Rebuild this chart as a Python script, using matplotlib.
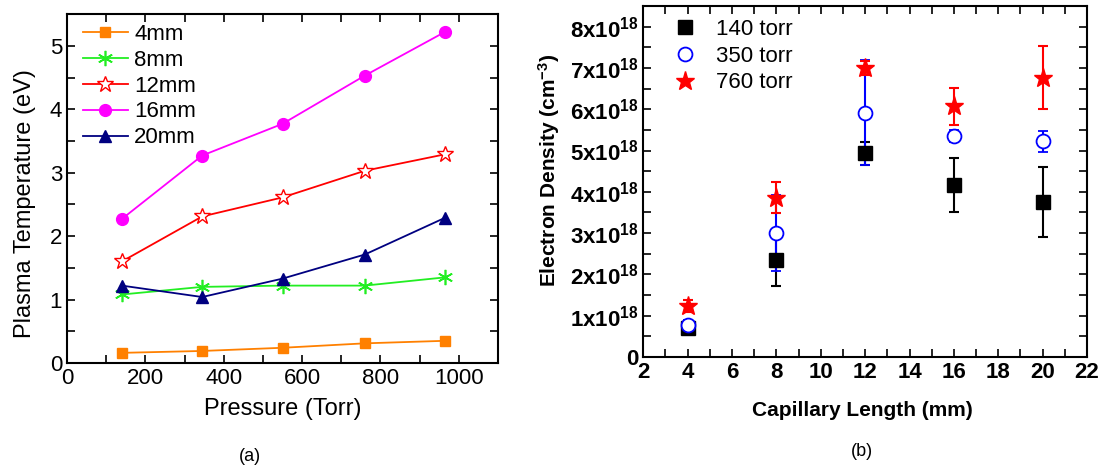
import numpy as np
import matplotlib
matplotlib.use("Agg")
import matplotlib.pyplot as plt
from matplotlib.ticker import MultipleLocator, FuncFormatter

plt.rcParams['font.family'] = ['Liberation Sans', 'DejaVu Sans']
plt.rcParams['mathtext.fontset'] = 'custom'
plt.rcParams['mathtext.rm'] = 'Liberation Sans'
plt.rcParams['mathtext.bf'] = 'Liberation Sans:bold'
plt.rcParams['mathtext.default'] = 'bf'

# (a) plasma temperature vs pressure
pressure = [140, 345, 550, 760, 965]
temp_4mm = [0.16, 0.19, 0.24, 0.31, 0.35]
temp_8mm = [1.08, 1.20, 1.22, 1.22, 1.35]
temp_12mm = [1.60, 2.31, 2.61, 3.03, 3.29]
temp_16mm = [2.27, 3.27, 3.77, 4.53, 5.22]
temp_20mm = [1.22, 1.04, 1.33, 1.71, 2.29]

# (b) electron density (x1e18 cm^-3) vs capillary length
length = [4, 8, 12, 16, 20]
ne_140 = [0.70, 2.36, 4.93, 4.17, 3.76]
ne_140_err = [0.08, 0.65, 0.27, 0.65, 0.85]
ne_350 = [0.77, 3.01, 5.92, 5.35, 5.22]
ne_350_err = [0.12, 0.92, 1.28, 0.15, 0.25]
ne_760 = [1.23, 3.86, 7.01, 6.07, 6.76]
ne_760_err = [0.15, 0.38, 0.17, 0.45, 0.76]

fig = plt.figure(figsize=(11.07, 4.69), dpi=100)

# ---- panel (a)
ax1 = fig.add_axes([0.0605, 0.226, 0.3894, 0.744])
ax1.plot(pressure, temp_4mm, color='#FF8000', marker='s', ms=7, lw=1.3, label='4mm')
ax1.plot(pressure, temp_8mm, color='#22EE22', marker=(6, 2, 0), ms=11, mew=1.2, lw=1.3, label='8mm')
ax1.plot(pressure, temp_12mm, color='#FF0000', marker='*', ms=12, mfc='white', mew=1.0, lw=1.3, label='12mm')
ax1.plot(pressure, temp_16mm, color='#FF00FF', marker='o', ms=8.5, lw=1.3, label='16mm')
ax1.plot(pressure, temp_20mm, color='#000080', marker='^', ms=9, lw=1.3, label='20mm')

ax1.set_xlim(0, 1100)
ax1.set_ylim(0, 5.5)
ax1.xaxis.set_major_locator(MultipleLocator(200))
ax1.xaxis.set_minor_locator(MultipleLocator(100))
ax1.yaxis.set_major_locator(MultipleLocator(1))
ax1.yaxis.set_minor_locator(MultipleLocator(0.5))
ax1.tick_params(which='both', direction='in', top=True, right=True, labelsize=16, width=1.2)
ax1.tick_params(which='major', length=6)
ax1.tick_params(which='minor', length=6)
for s in ax1.spines.values():
    s.set_linewidth(1.5)
ax1.set_xlabel('Pressure (Torr)', fontsize=17, va='center')
ax1.xaxis.set_label_coords(0.501, -0.132)
ax1.set_ylabel('Plasma Temperature (eV)', fontsize=17, va='center')
ax1.yaxis.set_label_coords(-0.097, 0.456)
ax1.legend(loc='upper left', bbox_to_anchor=(0.027, 0.985), frameon=False, fontsize=16,
           handlelength=2.0, handletextpad=0.3, labelspacing=0.22, borderaxespad=0, borderpad=0.2)
fig.text(0.226, 0.026, '(a)', fontsize=13, ha='center', va='center')

# ---- panel (b)
ax2 = fig.add_axes([0.581, 0.2388, 0.401, 0.7484])
ax2.errorbar(length, ne_140, yerr=ne_140_err, fmt='s', color='black', ms=9.5,
             capsize=3.5, elinewidth=1.5, capthick=1.5, label='140 torr')
ax2.errorbar(length, ne_350, yerr=ne_350_err, fmt='o', color='#0000FF', mfc='white', ms=10,
             mew=1.3, capsize=3.5, elinewidth=1.5, capthick=1.5, label='350 torr')
ax2.errorbar(length, ne_760, yerr=ne_760_err, fmt='*', color='#FF0000', ms=14,
             capsize=3.5, elinewidth=1.5, capthick=1.5, label='760 torr')

ax2.set_xlim(2, 22)
ax2.set_ylim(0, 8.5)
ax2.xaxis.set_major_locator(MultipleLocator(2))
ax2.xaxis.set_minor_locator(MultipleLocator(1))
ax2.yaxis.set_major_locator(MultipleLocator(1))
ax2.yaxis.set_minor_locator(MultipleLocator(0.5))
ax2.yaxis.set_major_formatter(FuncFormatter(
    lambda v, p: '0' if v == 0 else '%dx10$^{18}$' % round(v)))
ax2.tick_params(which='both', direction='in', top=True, right=True, labelsize=16, width=1.2)
ax2.tick_params(which='major', length=6)
ax2.tick_params(which='minor', length=6)
for lbl in ax2.get_xticklabels() + ax2.get_yticklabels():
    lbl.set_fontweight('bold')
for s in ax2.spines.values():
    s.set_linewidth(1.5)
ax2.set_xlabel('Capillary Length (mm)', fontsize=15, fontweight='bold', va='center')
ax2.xaxis.set_label_coords(0.493, -0.151)
ax2.set_ylabel('Electron Density (cm$^{-3}$)', fontsize=15, fontweight='bold', va='center')
ax2.yaxis.set_label_coords(-0.212, 0.53)
handles, labels = ax2.get_legend_handles_labels()
handles = [h[0] for h in handles]
ax2.legend(handles, labels, loc='upper left', bbox_to_anchor=(0.06, 0.975), frameon=False,
           fontsize=16, handlelength=1.0, handletextpad=0.9, labelspacing=0.25,
           borderaxespad=0, borderpad=0.2)
fig.text(0.779, 0.038, '(b)', fontsize=13, ha='center', va='center')

fig.savefig('out.png', dpi=100)
